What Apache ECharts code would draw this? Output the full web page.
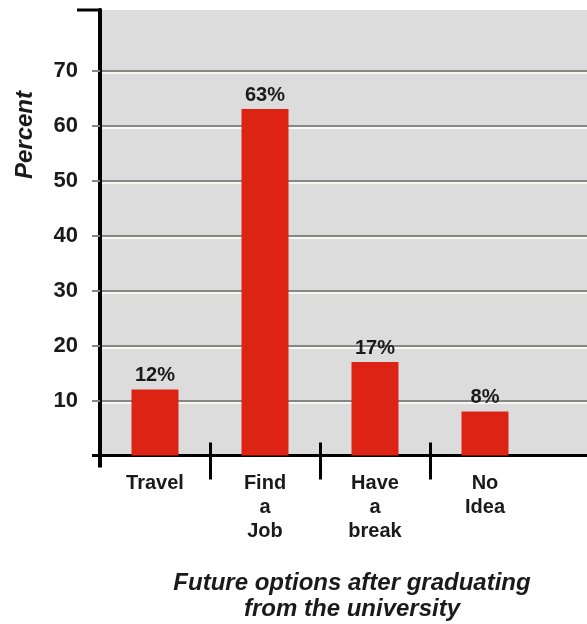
<!DOCTYPE html>
<html>
<head>
<meta charset="utf-8">
<title>Future options after graduating from the university</title>
<script src="https://cdn.jsdelivr.net/npm/echarts@6/dist/echarts.min.js"></script>
<style>
  html, body { margin: 0; padding: 0; background: #ffffff; }
  #chart { width: 587px; height: 624px; }
</style>
</head>
<body>
<div id="chart"></div>
<script>
// Survey answers
const categories = ['Travel', 'Find\na\nJob', 'Have\na\nbreak', 'No\nIdea'];
const percents = [12, 63, 17, 8];
const yTickValues = [10, 20, 30, 40, 50, 60, 70];
const separatorPositions = [1, 2, 3];
const yMax = 81;
const axisTitle = 'Percent';
const chartTitle = 'Future options after graduating\nfrom the university';

const FONT = '"Liberation Sans", Arial, Helvetica, sans-serif';
const INK = '#1a1a1a';
const GRID_GRAY = '#878787';
const PLOT_BG = '#dcdcdc';

const splitLineStyle = {
  show: true,
  lineStyle: {
    color: GRID_GRAY, width: 2,
    shadowColor: 'rgba(250,250,244,0.95)', shadowOffsetY: 2, shadowBlur: 0
  }
};

// Separator ticks between categories: a value axis spanning the category slots.
function separatorAxis(inside, length) {
  return {
    type: 'value',
    gridIndex: 0,
    min: 0, max: categories.length, interval: 1,
    position: 'bottom',
    axisLine: { show: false },
    axisTick: {
      show: true, inside: inside, length: length, customValues: separatorPositions,
      lineStyle: { color: '#000', width: 3 }
    },
    axisLabel: { show: false, customValues: separatorPositions },
    splitLine: { show: false }
  };
}

const chart = echarts.init(document.getElementById('chart'), null, { renderer: 'canvas' });

chart.setOption({
  animation: false,
  backgroundColor: '#ffffff',
  textStyle: { fontFamily: FONT },
  grid: [
    // main plot: four categories
    { left: 100, width: 440, top: 10, height: 445.5, show: true, backgroundColor: PLOT_BG, borderWidth: 0 },
    // empty strip that carries the background, gridlines and base line to the right edge
    { left: 540, right: 0, top: 10, height: 445.5, show: true, backgroundColor: PLOT_BG, borderWidth: 0 }
  ],
  xAxis: [
    {
      type: 'category',
      gridIndex: 0,
      data: categories,
      position: 'bottom',
      axisLine: { show: true, lineStyle: { color: '#000', width: 3 } },
      axisTick: { show: false },
      axisLabel: {
        interval: 0, margin: 16,
        color: INK, fontSize: 20, fontWeight: 'bold', lineHeight: 24, fontFamily: FONT
      },
      splitLine: { show: false }
    },
    separatorAxis(false, 24),
    separatorAxis(true, 13),
    {
      type: 'value',
      gridIndex: 1,
      min: 0, max: 1,
      position: 'bottom',
      axisLine: { show: true, lineStyle: { color: '#000', width: 3 } },
      axisTick: { show: false },
      axisLabel: { show: false },
      splitLine: { show: false }
    }
  ],
  yAxis: [
    {
      type: 'value',
      gridIndex: 0,
      min: 0,
      max: yMax,
      interval: 10,
      axisLine: { show: true, lineStyle: { color: '#000', width: 4 } },
      axisTick: {
        show: true, customValues: yTickValues, length: 8,
        lineStyle: { color: GRID_GRAY, width: 2 }
      },
      axisLabel: {
        customValues: yTickValues, margin: 22,
        color: INK, fontSize: 22, fontWeight: 'bold', fontFamily: FONT
      },
      splitLine: splitLineStyle
    },
    {
      type: 'value',
      gridIndex: 1,
      min: 0,
      max: yMax,
      interval: 10,
      axisLine: { show: false },
      axisTick: { show: false, customValues: yTickValues },
      axisLabel: { show: false, customValues: yTickValues },
      splitLine: splitLineStyle
    }
  ],
  series: [{
    type: 'bar',
    xAxisIndex: 0,
    yAxisIndex: 0,
    data: percents,
    barWidth: 47,
    itemStyle: { color: '#dd2314' },
    label: {
      show: true,
      position: 'top',
      distance: 4,
      formatter: '{c}%',
      color: INK, fontSize: 20, fontWeight: 'bold', fontFamily: FONT
    }
  }]
});

// Axis ornaments: top cap, downward extension of the value axis, left stub of the base line.
const p0 = chart.convertToPixel({ seriesIndex: 0 }, [0, 0]);
const p1 = chart.convertToPixel({ seriesIndex: 0 }, [1, yMax]);
const band = p1[0] - p0[0];
const axisX = p0[0] - band / 2;
const baseY = p0[1];
const topY = p1[1];
const black = { stroke: '#000', lineWidth: 3 };

chart.setOption({
  graphic: [
    { type: 'line', shape: { x1: axisX - 23, y1: topY, x2: axisX + 1.5, y2: topY }, style: black, z: 10 },
    { type: 'line', shape: { x1: axisX, y1: baseY, x2: axisX, y2: baseY + 12 }, style: { stroke: '#000', lineWidth: 4 }, z: 10 },
    { type: 'line', shape: { x1: axisX - 8, y1: baseY, x2: axisX, y2: baseY }, style: black, z: 10 },
    {
      type: 'text', x: 25, y: 135, rotation: Math.PI / 2, z: 10,
      style: {
        text: axisTitle, fill: INK, align: 'center', verticalAlign: 'middle',
        font: 'italic bold 24px ' + FONT
      }
    },
    {
      type: 'text', x: 352, y: 570, z: 10,
      style: {
        text: chartTitle, fill: INK, align: 'center', verticalAlign: 'top', lineHeight: 26,
        font: 'italic bold 24px ' + FONT
      }
    }
  ]
});
</script>
</body>
</html>
